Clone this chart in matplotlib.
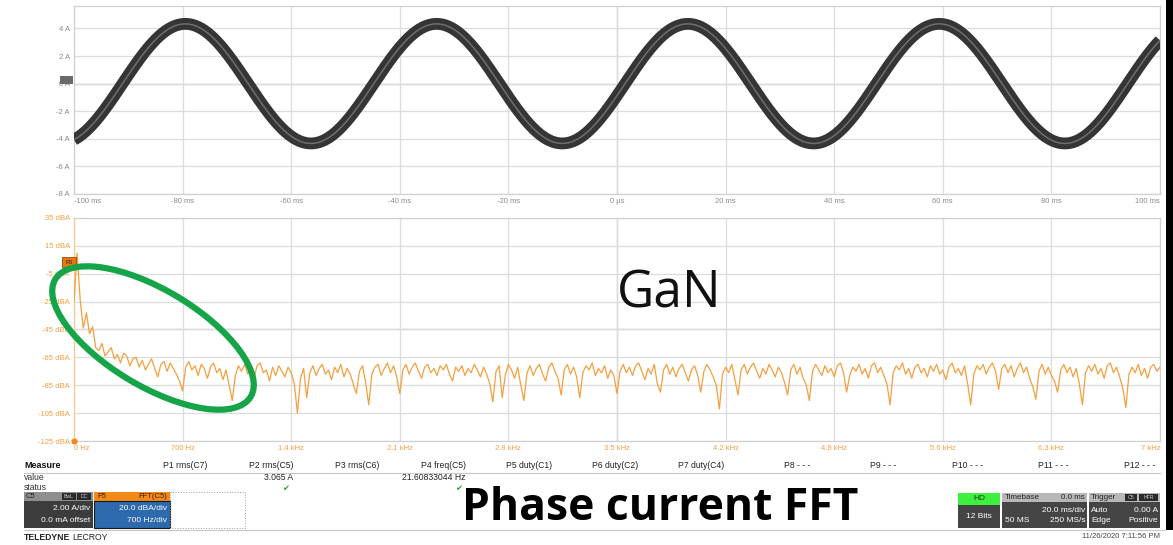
import numpy as np
import matplotlib
matplotlib.use("Agg")
import matplotlib.pyplot as plt
from matplotlib.patches import Ellipse, Rectangle

W, H = 1173, 545

# ---- C5: phase current (measured values from the scope) ----
fundamental_hz = 21.60833044
rms_a = 3.065
peak_time_ms = -79.5
time_ticks_ms = [-100, -80, -60, -40, -20, 0, 20, 40, 60, 80, 100]
time_labels = ["-100 ms", "-80 ms", "-60 ms", "-40 ms", "-20 ms", "0 \u00b5s",
               "20 ms", "40 ms", "60 ms", "80 ms", "100 ms"]
current_ticks = [4, 2, 0, -2, -4, -6, -8]
current_labels = ["4 A", "2 A", "0 A", "-2 A", "-4 A", "-6 A", "-8 A"]

# ---- F5: FFT of C5, 20 Hz bins ----
fft_step_hz = 20
fft_dba_0k = [-25, 9.7, -24, -44, -33, -48, -43, -58, -60, -55, -64, -61, -58, -66, -63, -69, -62, -64, -71, -66,
              -65, -72, -67, -74, -70, -66, -73, -79, -70, -68, -75, -69, -73, -77, -82, -89, -72, -68, -74, -71,
              -78, -70, -73, -80, -72, -69, -76, -73, -81, -74]
fft_dba_1k = [-85, -96, -78, -71, -75, -70, -77, -73, -80, -71, -69, -76, -74, -82, -72, -78, -71, -75, -79, -72,
              -76, -84, -105, -80, -73, -94, -76, -71, -78, -73, -70, -77, -74, -81, -72, -76, -70, -79, -73, -77,
              -84, -91, -75, -71, -83, -99, -77, -72, -70, -78]
fft_dba_2k = [-73, -69, -76, -71, -79, -91, -74, -70, -77, -72, -69, -75, -80, -72, -70, -76, -73, -78, -71, -74,
              -70, -77, -82, -72, -75, -71, -78, -73, -76, -70, -74, -79, -72, -77, -84, -97, -75, -71, -94, -78,
              -70, -74, -80, -72, -85, -96, -76, -71, -78, -73]
fft_dba_3k = [-70, -77, -82, -72, -69, -75, -80, -92, -74, -70, -77, -72, -79, -94, -76, -71, -74, -69, -78, -73,
              -76, -71, -80, -74, -78, -91, -75, -70, -76, -72, -78, -71, -69, -75, -81, -73, -77, -70, -84, -90,
              -74, -70, -77, -72, -79, -73, -70, -76, -82, -74]
fft_dba_4k = [-71, -78, -90, -75, -70, -74, -79, -85, -102, -77, -72, -76, -70, -81, -92, -74, -70, -77, -72, -69,
              -75, -80, -73, -77, -70, -74, -79, -72, -76, -83, -92, -74, -70, -77, -72, -80, -85, -96, -75, -70,
              -74, -78, -71, -76, -73, -79, -71, -69, -76, -90]
fft_dba_5k = [-78, -72, -75, -70, -77, -73, -80, -71, -69, -76, -72, -78, -84, -99, -76, -71, -74, -69, -77, -73,
              -80, -72, -70, -76, -73, -79, -71, -75, -70, -77, -74, -81, -72, -69, -76, -73, -78, -71, -84, -99,
              -77, -71, -74, -70, -77, -72, -69, -75, -88, -73]
fft_dba_6k = [-70, -76, -71, -79, -73, -69, -76, -72, -80, -86, -95, -75, -70, -77, -72, -78, -82, -90, -74, -70,
              -76, -72, -79, -73, -84, -99, -76, -71, -75, -70, -77, -73, -80, -71, -69, -76, -72, -79, -87, -101,
              -77, -72, -76, -70, -78, -73, -80, -72, -70, -75, -72]
freq_ticks_hz = [0, 700, 1400, 2100, 2800, 3500, 4200, 4900, 5600, 6300, 7000]
freq_labels = ["0 Hz", "700 Hz", "1.4 kHz", "2.1 kHz", "2.8 kHz", "3.5 kHz", "4.2 kHz",
               "4.9 kHz", "5.6 kHz", "6.3 kHz", "7 kHz"]
dba_ticks = [35, 15, -5, -25, -45, -65, -85, -105, -125]
dba_labels = ["35 dBA", "15 dBA", "-5 dBA", "-25 dBA", "-45 dBA", "-65 dBA", "-85 dBA", "-105 dBA", "-125 dBA"]

# ---- measurement table ----
measure_names = ["P1 rms(C7)", "P2 rms(C5)", "P3 rms(C6)", "P4 freq(C5)", "P5 duty(C1)", "P6 duty(C2)",
                 "P7 duty(C4)", "P8 - - -", "P9 - - -", "P10 - - -", "P11 - - -", "P12 - - -"]
measure_values = ["", "3.065 A", "", "21.60833044 Hz", "", "", "", "", "", "", "", ""]
measure_ok = [False, True, False, True, False, False, False, False, False, False, False, False]

fft_dba = fft_dba_0k + fft_dba_1k + fft_dba_2k + fft_dba_3k + fft_dba_4k + fft_dba_5k + fft_dba_6k
fft_freq = np.arange(len(fft_dba)) * fft_step_hz

GRID = "#dcdcdc"
CENTER = "#b4b4b4"
ORANGE = "#f4a040"
TICKGRAY = "#8a8a8a"
SCOPE_FONT = "Liberation Sans"

fig = plt.figure(figsize=(W / 100, H / 100), dpi=100)
fig.patch.set_facecolor("white")


def px_axes(x0, y0, x1, y1):
    return fig.add_axes([x0 / W, 1 - y1 / H, (x1 - x0) / W, (y1 - y0) / H])


def graticule(ax, xt, yt, xc, yc):
    ax.set_xticks(xt)
    ax.set_yticks(yt)
    ax.grid(True, color=GRID, lw=0.9)
    ax.axvline(xc, color=CENTER, lw=0.9, zorder=1)
    ax.axhline(yc, color=CENTER, lw=0.9, zorder=1)
    ax.tick_params(length=0, pad=3)
    for s in ax.spines.values():
        s.set_color("#d0d0d0")
        s.set_linewidth(0.9)


# ---- time-domain panel ----
ax1 = px_axes(74, 6, 1160, 194)
t = np.linspace(-100, 100, 4001)
i_t = np.sqrt(2) * rms_a * np.cos(2 * np.pi * fundamental_hz * (t - peak_time_ms) / 1000.0)
ax1.set_xlim(-100, 100)
ax1.set_ylim(-8, 5.63)
graticule(ax1, time_ticks_ms, current_ticks, 0, 0)
ax1.plot(t, i_t, color="#353535", lw=8.5, solid_capstyle="butt", zorder=3)
ax1.plot(t, i_t, color="#6e6e6e", lw=1.1, zorder=4)
ax1.set_xticklabels(time_labels, fontsize=5.5, color=TICKGRAY, family=SCOPE_FONT)
ax1.set_yticklabels(current_labels, fontsize=5.5, color=TICKGRAY, family=SCOPE_FONT)
xl = ax1.get_xticklabels()
xl[0].set_ha("left")
xl[-1].set_ha("right")

# ---- FFT panel ----
ax2 = px_axes(74, 218, 1160, 441)
ax2.set_xlim(0, 7000)
ax2.set_ylim(-125, 35)
graticule(ax2, freq_ticks_hz, dba_ticks, 3500, -45)
ax2.plot(fft_freq, fft_dba, color=ORANGE, lw=0.9, zorder=3)
ax2.spines["left"].set_color("#f7c890")
ax2.set_xticklabels(freq_labels, fontsize=5.5, color=ORANGE, family=SCOPE_FONT)
ax2.set_yticklabels(dba_labels, fontsize=5.5, color=ORANGE, family=SCOPE_FONT)
xl = ax2.get_xticklabels()
xl[0].set_ha("left")
xl[-1].set_ha("right")
ax2.plot([0], [-125], "o", color="#f08a1c", ms=3.5, clip_on=False, zorder=5)

# ---- overlay in pixel coordinates for annotations and scope panels ----
ov = fig.add_axes([0, 0, 1, 1], zorder=10)
ov.set_xlim(0, W)
ov.set_ylim(H, 0)
ov.axis("off")
ov.patch.set_alpha(0)


def box(x0, y0, x1, y1, fc, ec="none", lw=0.0, ls="-"):
    ov.add_patch(Rectangle((x0, y0), x1 - x0, y1 - y0, facecolor=fc, edgecolor=ec, lw=lw, ls=ls))


def txt(x, y, s, size=6.2, color="#222222", ha="left", weight="normal", family=SCOPE_FONT):
    ov.text(x, y, s, fontsize=size, color=color, ha=ha, va="center", fontweight=weight, family=family)


# channel markers
box(60, 76, 73, 84, "#6a6a6a")
box(62, 257, 76, 267, "#e07a10", ec="#9a4a00", lw=0.6)
txt(69, 262, "F5", size=4.5, color="#3a1a00", ha="center")

# highlight ellipse
ov.add_patch(Ellipse((153, 338), 2 * 114, 2 * 48, angle=31, fill=False, edgecolor="#15a548", lw=4.5))

# annotations
ov.text(669, 294, "GaN", fontsize=37, color="#111111", ha="center", va="center", family="Open Sans")
ov.text(660, 508, "Phase current FFT", fontsize=32, color="black", ha="center", va="center",
        family="Open Sans", fontweight="bold")

# measurement table
txt(24, 466, "Measure", size=6.5, weight="bold", color="#111111")
txt(24, 478, "value", size=6.2, color="#333333")
txt(24, 488, "status", size=6.2, color="#333333")
for k, (name, val, ok) in enumerate(zip(measure_names, measure_values, measure_ok)):
    xr = 207 + 86.2 * k
    txt(xr, 466, name, size=6.2, ha="right", color="#222222")
    if val:
        txt(xr, 478, val, size=6.2, ha="right", color="#222222")
    if ok:
        txt(xr - 4, 488, "\u2714", size=6, ha="right", color="#2aa040", family="DejaVu Sans")
ov.plot([24, 1160], [472.5, 472.5], color="#c8c8c8", lw=0.8)

# channel descriptor boxes
box(24, 492, 93, 501, "#8e8e8e")
txt(26, 496.5, "C5", size=5.5, color="#222222")
box(62, 493, 76, 500, "#2a2a2a")
box(77, 493, 91, 500, "#2a2a2a")
txt(69, 496.5, "BwL", size=3.8, color="#cccccc", ha="center")
txt(84, 496.5, "DC", size=3.8, color="#cccccc", ha="center")
box(24, 501, 93, 528, "#3c3c3c")
txt(90, 509, "2.00 A/div", size=6, color="white", ha="right")
txt(90, 520, "0.0 mA offset", size=6, color="white", ha="right")

box(94, 492, 170, 501, "#f28a1a")
txt(97, 496.5, "F5", size=5.5, color="#3a1a00")
txt(167, 496.5, "FFT(C5)", size=5.5, color="#3a1a00", ha="right")
box(94, 501, 170, 528, "#2c6aad", ec="#1a1a1a", lw=0.8)
txt(167, 509, "20.0 dBA/div", size=6, color="white", ha="right")
txt(167, 520, "700 Hz/div", size=6, color="white", ha="right")
box(170, 492, 245, 528, "none", ec="#9a9a9a", lw=0.7, ls=":")

# acquisition boxes
box(958, 493, 1000, 505, "#3ef03e")
txt(979, 499, "HD", size=6, color="#1a3a1a", ha="center")
box(958, 505, 1000, 528, "#454545")
txt(979, 516, "12 Bits", size=6, color="white", ha="center")

box(1002, 493, 1087, 528, "#454545")
box(1002, 493, 1087, 502, "#b8b8b8")
txt(1005, 497.5, "Timebase", size=5.8, color="#222222")
txt(1085, 497.5, "0.0 ms", size=5.8, color="#222222", ha="right")
txt(1085, 510, "20.0 ms/div", size=6, color="white", ha="right")
txt(1005, 521, "50 MS", size=6, color="white")
txt(1085, 521, "250 MS/s", size=6, color="white", ha="right")

box(1089, 493, 1160, 528, "#454545")
box(1089, 493, 1160, 502, "#b8b8b8")
txt(1091, 497.5, "Trigger", size=5.8, color="#222222")
box(1125, 494, 1137, 501, "#2a2a2a")
box(1139, 494, 1158, 501, "#2a2a2a")
txt(1131, 497.5, "C5", size=3.8, color="#cccccc", ha="center")
txt(1148.5, 497.5, "HFR", size=3.8, color="#cccccc", ha="center")
txt(1091, 510, "Auto", size=6, color="white")
txt(1158, 510, "0.00 A", size=6, color="white", ha="right")
txt(1091, 521, "Edge", size=6, color="white")
txt(1158, 521, "Positive", size=6, color="white", ha="right")

ov.plot([24, 1165], [530, 530], color="#c8c8c8", lw=0.8)
txt(24, 537, "TELEDYNE", size=6.2, weight="bold", color="#222222")
txt(72, 537, "LECROY", size=6.2, color="#222222")
txt(1160, 537, "11/26/2020 7:11:56 PM", size=5.5, color="#444444", ha="right")

box(1166, 0, 1173, 530, "black")

fig.savefig("out.png", dpi=100)
